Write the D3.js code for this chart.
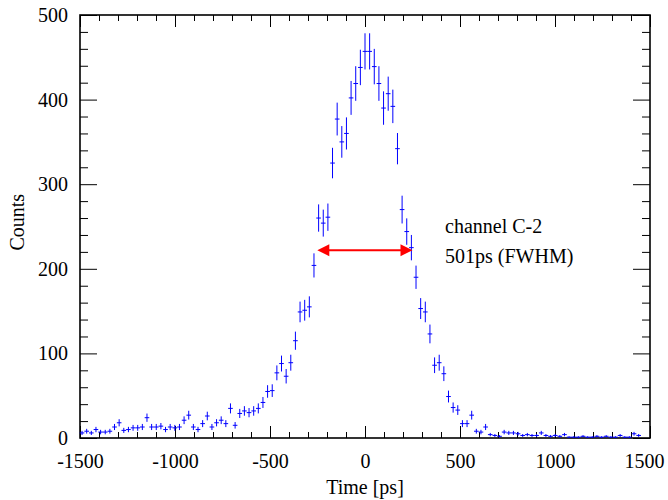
<!DOCTYPE html>
<html>
  <head>
    <meta charset="utf-8">
    <title>Channel C-2 time resolution</title>
    <script src="https://d3js.org/d3.v7.min.js"></script>
    <style>
      body { margin: 0; background: #fff; }
      svg { display: block; font-family: "Liberation Serif", "DejaVu Serif", serif; }
      .tick line { stroke: #000; stroke-width: 1; }
      .bin line { stroke: #0000ff; stroke-width: 1; }
    </style>
  </head>
  <body>
    <svg id="chart" width="668" height="500"></svg>
    <script>
      // histogram: TDC bins of 24.414 ps, bin index -61 .. 61
      binWidth = 24.414;
      firstBin = -61;
      counts = [
        6, 8, 6, 10, 7, 7, 8, 13, 18, 9,
        10, 12, 12, 13, 24, 13, 13, 14, 10, 13,
        12, 13, 21, 27, 13, 10, 17, 26, 13, 18,
        21, 17, 35, 15, 29, 32, 30, 32, 35, 42,
        55, 56, 77, 88, 73, 89, 115, 149, 151, 155,
        204, 260, 254, 261, 325, 377, 350, 360, 402, 419,
        438, 457, 457, 439, 419, 390, 407, 392, 342, 270,
        244, 225, 190, 153, 149, 123, 86, 89, 76, 49,
        36, 33, 17, 17, 27, 8, 7, 13, 4, 3,
        2, 7, 6, 6, 5, 3, 4, 3, 3, 6,
        3, 2, 3, 2, 4, 1, 1, 1, 2, 1,
        1, 2, 1, 2, 1, 1, 3, 1, 1, 5,
        3, 0, 0
      ];
      // axes
      xMajor = [-1500, -1000, -500, 0, 500, 1000, 1500];
      xMinor = d3.range(-1400, 1500, 100).filter(function(d) { return d % 500 != 0; });
      yMajor = [0, 100, 200, 300, 400, 500];
      yMinor = d3.range(20, 500, 20).filter(function(d) { return d % 100 != 0; });
      // annotation
      labelLines = ["channel C-2", "501ps (FWHM)"];
      fwhm = [-251, 250];
      halfMax = 222;

      bins = counts.map(function(c, i) {
        return { t: (firstBin + i) * binWidth, c: c };
      }).filter(function(d) { return d.c > 0; });

      svg = d3.select("#chart");
      x = d3.scaleLinear().domain([-1500, 1500]).range([80, 650]);
      y = d3.scaleLinear().domain([0, 500]).range([438, 15]);
      plain = function(d) { return String(d); };

      function styleAxis(g) {
        g.select(".domain").remove();
        g.attr("font-family", null).attr("font-size", 20);
        g.selectAll("text").attr("fill", "#000");
      }

      // bottom and top
      bottom = svg.append("g").attr("transform", "translate(0,438)")
        .call(d3.axisBottom(x).tickValues(xMajor).tickSize(-12).tickPadding(16).tickFormat(plain))
        .call(styleAxis);
      // keep the last label inside the page
      bottom.selectAll("text")
        .filter(function(d) { return d == 1500; })
        .attr("dx", -6);
      svg.append("g").attr("transform", "translate(0,438)")
        .call(d3.axisBottom(x).tickValues(xMinor).tickSize(-6).tickFormat(""))
        .call(styleAxis);
      svg.append("g").attr("transform", "translate(0,15)")
        .call(d3.axisTop(x).tickValues(xMajor).tickSize(-12).tickFormat(""))
        .call(styleAxis);
      svg.append("g").attr("transform", "translate(0,15)")
        .call(d3.axisTop(x).tickValues(xMinor).tickSize(-6).tickFormat(""))
        .call(styleAxis);
      // left and right
      svg.append("g").attr("transform", "translate(80,0)")
        .call(d3.axisLeft(y).tickValues(yMajor).tickSize(-17).tickPadding(12).tickFormat(plain))
        .call(styleAxis);
      svg.append("g").attr("transform", "translate(80,0)")
        .call(d3.axisLeft(y).tickValues(yMinor).tickSize(-8).tickFormat(""))
        .call(styleAxis);
      svg.append("g").attr("transform", "translate(650,0)")
        .call(d3.axisRight(y).tickValues(yMajor).tickSize(-17).tickFormat(""))
        .call(styleAxis);
      svg.append("g").attr("transform", "translate(650,0)")
        .call(d3.axisRight(y).tickValues(yMinor).tickSize(-8).tickFormat(""))
        .call(styleAxis);

      // frame
      svg.append("rect")
        .attr("x", x(-1500)).attr("y", y(500))
        .attr("width", x(1500) - x(-1500)).attr("height", y(0) - y(500))
        .attr("fill", "none").attr("stroke", "#000").attr("stroke-width", 1.6);

      // titles
      svg.append("text")
        .attr("x", x(0)).attr("y", 494)
        .attr("text-anchor", "middle").attr("font-size", 20)
        .text("Time [ps]");
      svg.append("text")
        .attr("transform", "translate(24," + y(255) + ") rotate(-90)")
        .attr("text-anchor", "middle").attr("font-size", 20)
        .text("Counts");

      // data points with poisson errors
      binGroup = svg.selectAll(".bin")
        .data(bins)
        .enter().append("g")
          .classed("bin", true);
      binGroup.append("line")
        .attr("x1", function(d) { return x(d.t); })
        .attr("x2", function(d) { return x(d.t); })
        .attr("y1", function(d) { return y(d.c - Math.sqrt(d.c)); })
        .attr("y2", function(d) { return y(d.c + Math.sqrt(d.c)); });
      binGroup.append("line")
        .attr("x1", function(d) { return x(d.t - binWidth / 2); })
        .attr("x2", function(d) { return x(d.t + binWidth / 2); })
        .attr("y1", function(d) { return y(d.c); })
        .attr("y2", function(d) { return y(d.c); });

      // fwhm arrow
      let ax0 = x(fwhm[0]), ax1 = x(fwhm[1]), ay = y(halfMax);
      svg.append("line")
        .attr("x1", ax0 + 6).attr("x2", ax1 - 6)
        .attr("y1", ay).attr("y2", ay)
        .attr("stroke", "#ff0000").attr("stroke-width", 2);
      svg.append("path")
        .attr("d", "M" + ax0 + "," + ay + "L" + (ax0 + 12) + "," + (ay - 6) + "L" + (ax0 + 12) + "," + (ay + 6) + "Z"
          + "M" + ax1 + "," + ay + "L" + (ax1 - 12) + "," + (ay - 6) + "L" + (ax1 - 12) + "," + (ay + 6) + "Z")
        .attr("fill", "#ff0000");

      // label
      svg.selectAll(".note")
        .data(labelLines)
        .enter().append("text")
          .classed("note", true)
          .attr("x", 445)
          .attr("y", function(d, i) { return 233 + i * 30; })
          .attr("font-size", 20)
          .text(function(d) { return d; });
    </script>
  </body>
</html>
